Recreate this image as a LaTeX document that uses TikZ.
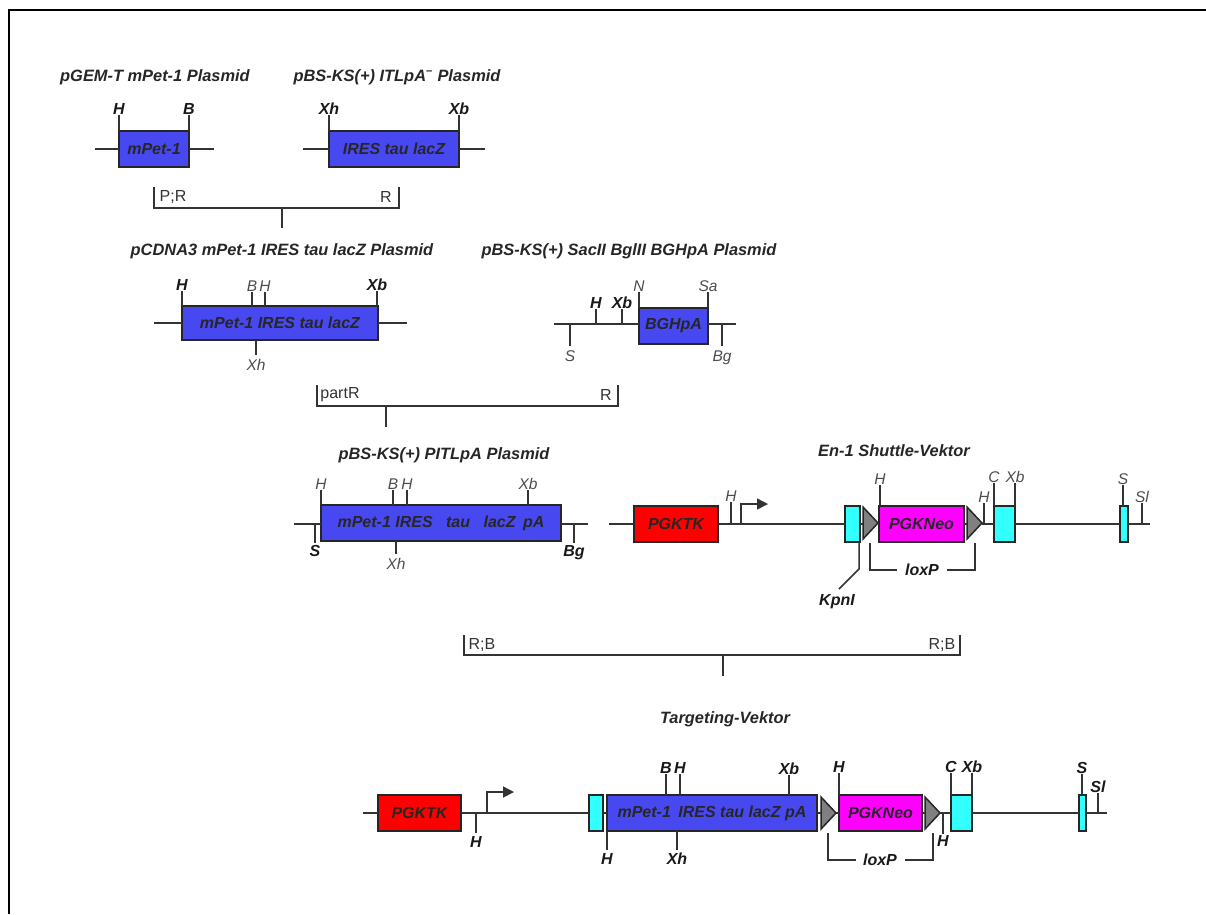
\documentclass[tikz,border=0pt]{standalone}
\usepackage{fontspec}
\setmainfont{Liberation Sans}
\usepackage{tikz}
\usetikzlibrary{arrows.meta,shapes.geometric}
\definecolor{geneblue}{RGB}{72,72,240}
\definecolor{kkred}{RGB}{255,0,0}
\definecolor{neopink}{RGB}{255,0,255}
\definecolor{exoncyan}{RGB}{51,255,255}
\tikzset{
  wire/.style={line width=1.5pt,draw=black!80},
  bx/.style={draw=black!85,line width=1.5pt,inner sep=0pt,outer sep=0pt,font=\fontsize{16}{18}\selectfont\bfseries\itshape,text=black!85},
  gene/.style={bx,fill=geneblue},
  kk/.style={bx,fill=kkred},
  neo/.style={bx,fill=neopink},
  exon/.style={bx,fill=exoncyan},
  lox/.style={draw=black!85,fill=gray,line width=1.5pt,isosceles triangle,isosceles triangle stretches,shape border rotate=0,inner sep=0pt,outer sep=0pt,minimum width=32pt,minimum height=15pt,anchor=lower side},
  titlelbl/.style={font=\fontsize{16.4}{18}\selectfont\bfseries\itshape,inner sep=0pt,text=black!85},
  up/.style={inner sep=0pt,anchor=south,text depth=0pt,font=\fontsize{15.5}{18}\selectfont\itshape,text=black!70},
  dn/.style={inner ysep=4pt,inner xsep=0pt,anchor=north,text height=11pt,text depth=0pt,font=\fontsize{15.5}{18}\selectfont\itshape,text=black!70},
  bold/.style={font=\fontsize{16}{18}\selectfont\bfseries\itshape,text=black!90},
  enz/.style={inner sep=0pt,font=\fontsize{16}{18}\selectfont,text=black!80},
  pointer/.style={wire,-{Triangle[length=11pt,width=11pt]}},
}
\begin{document}
\begin{tikzpicture}[x=1pt,y=-1pt,>=Latex]
  \useasboundingbox (0,0) rectangle (1206,914);
  \draw[line width=2.2pt] (9,914) -- (9,10) -- (1206,10);

  % top row
  \node[titlelbl] (t1) at (155,77) {pGEM-T mPet-1 Plasmid};
  \node[titlelbl] (t2) at (397,77) {pBS-KS(+) ITLpA\textsuperscript{--} Plasmid};
  \node[gene,minimum width=70pt,minimum height=36pt] (mpet) at (154,149) {mPet-1};
  \node[gene,minimum width=130pt,minimum height=36pt] (itl) at (394,149) {IRES tau lacZ};
  \coordinate (a1) at (95,149);
  \coordinate (a2) at (214,149);
  \coordinate (b1) at (303,149);
  \coordinate (b2) at (485,149);
  \draw[wire] (a1) -- (mpet.west) (mpet.east) -- (a2);
  \draw[wire] (b1) -- (itl.west) (itl.east) -- (b2);
  \node[up,bold] (s1) at (119,115) {H};
  \node[up,bold] (s2) at (189,115) {B};
  \node[up,bold] (s3) at (329,115) {Xh};
  \node[up,bold] (s4) at (459,115) {Xb};
  \draw[wire] (s1.south) -- (s1.south |- mpet.north);
  \draw[wire] (s2.south) -- (s2.south |- mpet.north);
  \draw[wire] (s3.south) -- (s3.south |- itl.north);
  \draw[wire] (s4.south) -- (s4.south |- itl.north);
  % first bracket
  \coordinate (c1) at (154,187);
  \coordinate (c2) at (399,187);
  \coordinate (c3) at (282,208);
  \coordinate (c4) at (282,228);
  \draw[wire] (c1) |- (c3) -| (c2);
  \draw[wire] (c3) -- (c4);
  \node[enz] (e1) at (173,197) {P;R};
  \node[enz] (e2) at (386,197) {R};

  % second row
  \node[titlelbl] (t3) at (282,251) {pCDNA3 mPet-1 IRES tau lacZ Plasmid};
  \node[titlelbl] (t4) at (629,251) {pBS-KS(+) SacII BglII BGHpA Plasmid};
  \node[gene,minimum width=196pt,minimum height=34pt] (pitl) at (280,323) {mPet-1 IRES tau lacZ};
  \node[gene,minimum width=69pt,minimum height=36pt] (bgh) at (673.5,326) {BGHpA};
  \coordinate (d1) at (154,323);
  \coordinate (d2) at (407,323);
  \coordinate (f1) at (554,324);
  \coordinate (f2) at (736,324);
  \draw[wire] (d1) -- (pitl.west) (pitl.east) -- (d2);
  \draw[wire] (f1) -- (bgh.west |- f1) (bgh.east |- f1) -- (f2);
  \node[up,bold] (s5) at (182,291) {H};
  \node[up] (s6) at (252,292) {B};
  \node[up] (s7) at (265,292) {H};
  \node[up,bold] (s8) at (377,291) {Xb};
  \node[dn] (s9) at (256,355) {Xh};
  \draw[wire] (s5.south) -- (s5.south |- pitl.north);
  \draw[wire] (s6.south) -- (s6.south |- pitl.north);
  \draw[wire] (s7.south) -- (s7.south |- pitl.north);
  \draw[wire] (s8.south) -- (s8.south |- pitl.north);
  \draw[wire] (s9.north) -- (s9.north |- pitl.south);
  \node[dn] (s10) at (570,346) {S};
  \node[up,bold] (s11) at (596,309) {H};
  \node[up,bold] (s12) at (622,309) {Xb};
  \node[up] (s13) at (639,292) {N};
  \node[up] (s14) at (708,292) {Sa};
  \node[dn] (s15) at (722,346) {Bg};
  \draw[wire] (s10.north) -- (s10.north |- f1);
  \draw[wire] (s11.south) -- (s11.south |- f1);
  \draw[wire] (s12.south) -- (s12.south |- f1);
  \draw[wire] (s13.south) -- (s13.south |- bgh.north);
  \draw[wire] (s14.south) -- (s14.south |- bgh.north);
  \draw[wire] (s15.north) -- (s15.north |- f1);
  % second bracket
  \coordinate (g1) at (317,385);
  \coordinate (g2) at (618,385);
  \coordinate (g3) at (386,406);
  \coordinate (g4) at (386,427);
  \draw[wire] (g1) |- (g3) -| (g2);
  \draw[wire] (g3) -- (g4);
  \node[enz] (e3) at (340,395) {partR};
  \node[enz] (e4) at (606,395) {R};

  % third row, left
  \node[titlelbl] (t5) at (444,455) {pBS-KS(+) PITLpA Plasmid};
  \node[gene,minimum width=240pt,minimum height=36pt] (pa) at (441,523) {mPet-1 IRES\hspace{9pt} tau\hspace{9pt} lacZ\hspace{3pt} pA};
  \coordinate (h1) at (294,524);
  \coordinate (h2) at (588,524);
  \draw[wire] (h1) -- (pa.west |- h1) (pa.east |- h1) -- (h2);
  \node[dn,bold,inner ysep=2pt] (s16) at (315,543) {S};
  \node[up] (s17) at (321,490) {H};
  \node[up] (s18) at (393,490) {B};
  \node[up] (s19) at (407,490) {H};
  \node[up] (s20) at (528,490) {Xb};
  \node[dn] (s21) at (396,554) {Xh};
  \node[dn,bold,inner ysep=2pt] (s22) at (574,543) {Bg};
  \draw[wire] (s16.north) -- (s16.north |- h1);
  \draw[wire] (s17.south) -- (s17.south |- pa.north);
  \draw[wire] (s18.south) -- (s18.south |- pa.north);
  \draw[wire] (s19.south) -- (s19.south |- pa.north);
  \draw[wire] (s20.south) -- (s20.south |- pa.north);
  \draw[wire] (s21.north) -- (s21.north |- pa.south);
  \draw[wire] (s22.north) -- (s22.north |- h2);

  % shuttle vector
  \node[titlelbl] (t6) at (894,451) {En-1 Shuttle-Vektor};
  \node[kk,minimum width=84pt,minimum height=36pt] (tk1) at (676,524) {PGKTK};
  \node[exon,minimum width=15pt,minimum height=36pt] (x1) at (852.5,524) {};
  \node[lox] (l1) at (863,523) {};
  \node[neo,minimum width=85pt,minimum height=36pt] (neo1) at (921.5,524) {PGKNeo};
  \node[lox] (l2) at (967,523) {};
  \node[exon,minimum width=21pt,minimum height=36pt] (x2) at (1004.5,524) {};
  \node[exon,minimum width=8pt,minimum height=36pt] (x3) at (1124,524) {};
  \coordinate (j1) at (609,524);
  \coordinate (j2) at (1150,524);
  \draw[wire] (j1) -- (tk1.west) (tk1.east) -- (x1.west) (x1.east) -- (l1.lower side |- j1) (l1.apex |- j1) -- (neo1.west) (neo1.east) -- (l2.lower side |- j1) (l2.apex |- j1) -- (x2.west) (x2.east) -- (x3.west) (x3.east) -- (j2);
  \node[up] (s23) at (731,502) {H};
  \node[up] (s24) at (880,485) {H};
  \node[up] (s25) at (984,503) {H};
  \node[up] (s26) at (994,483) {C};
  \node[up] (s27) at (1015,483) {Xb};
  \node[up] (s28) at (1123,485) {S};
  \node[up] (s29) at (1142,503) {Sl};
  \draw[wire] (s23.south) -- (s23.south |- j1);
  \draw[wire] (s24.south) -- (s24.south |- neo1.north);
  \draw[wire] (s25.south) -- (s25.south |- j1);
  \draw[wire] (s26.south) -- (s26.south |- x2.north);
  \draw[wire] (s27.south) -- (s27.south |- x2.north);
  \draw[wire] (s28.south) -- (s28.south |- x3.north);
  \draw[wire] (s29.south) -- (s29.south |- j1);
  \coordinate (p1) at (741,524);
  \coordinate (p2) at (768,504);
  \draw[pointer] (p1) |- (p2);
  \node[up,bold,anchor=center] (k1) at (837,600) {KpnI};
  \coordinate (k2) at (859,569);
  \coordinate (k3) at (839,589);
  \draw[wire] (k2 |- x1.south) -- (k2) -- (k3);
  \node[up,bold,anchor=center] (lx1) at (922,570) {loxP};
  \coordinate (m1) at (870,543);
  \coordinate (m2) at (870,570);
  \coordinate (m3) at (975,543);
  \coordinate (m4) at (975,570);
  \draw[wire] (m1) -- (m2) -- (897,570);
  \draw[wire] (m3) -- (m4) -- (947,570);
  % third bracket
  \coordinate (n1) at (464,635);
  \coordinate (n2) at (960,635);
  \coordinate (n3) at (723,655);
  \coordinate (n4) at (723,676);
  \draw[wire] (n1) |- (n3) -| (n2);
  \draw[wire] (n3) -- (n4);
  \node[enz] (e5) at (482,645) {R;B};
  \node[enz] (e6) at (942,645) {R;B};

  % targeting vector
  \node[titlelbl] (t7) at (725,719) {Targeting-Vektor};
  \node[kk,minimum width=83pt,minimum height=36pt] (tk2) at (419.5,813) {PGKTK};
  \node[exon,minimum width=14pt,minimum height=36pt] (x4) at (596,813) {};
  \node[gene,minimum width=210pt,minimum height=36pt] (blue2) at (712,813) {mPet-1\hspace{3pt} IRES tau lacZ pA};
  \node[lox] (l3) at (821,813) {};
  \node[neo,minimum width=83pt,minimum height=36pt] (neo2) at (880.5,813) {PGKNeo};
  \node[lox] (l4) at (925,813) {};
  \node[exon,minimum width=21pt,minimum height=36pt] (x5) at (961.5,813) {};
  \node[exon,minimum width=7pt,minimum height=36pt] (x6) at (1082.5,813) {};
  \coordinate (q1) at (363,813);
  \coordinate (q2) at (1107,813);
  \draw[wire] (q1) -- (tk2.west) (tk2.east) -- (x4.west) (x4.east) -- (blue2.west) (blue2.east) -- (l3.lower side) (l3.apex) -- (neo2.west) (neo2.east) -- (l4.lower side) (l4.apex) -- (x5.west) (x5.east) -- (x6.west) (x6.east) -- (q2);
  \node[dn,bold,inner ysep=3pt] (s30) at (476,833) {H};
  \node[dn,bold,inner ysep=3pt] (s31) at (607,850) {H};
  \node[dn,bold,inner ysep=3pt] (s32) at (677,850) {Xh};
  \node[up,bold] (s33) at (666,774) {B};
  \node[up,bold] (s34) at (680,774) {H};
  \node[up,bold] (s35) at (789,775) {Xb};
  \node[up,bold] (s36) at (839,773) {H};
  \node[dn,bold,inner ysep=1pt] (s37) at (943,834) {H};
  \node[up,bold] (s38) at (951,773) {C};
  \node[up,bold] (s39) at (972,773) {Xb};
  \node[up,bold] (s40) at (1082,774) {S};
  \node[up,bold] (s41) at (1098,793) {Sl};
  \draw[wire] (s30.north) -- (s30.north |- q1);
  \draw[wire] (s31.north) -- (s31.north |- blue2.south);
  \draw[wire] (s32.north) -- (s32.north |- blue2.south);
  \draw[wire] (s33.south) -- (s33.south |- blue2.north);
  \draw[wire] (s34.south) -- (s34.south |- blue2.north);
  \draw[wire] (s35.south) -- (s35.south |- blue2.north);
  \draw[wire] (s36.south) -- (s36.south |- neo2.north);
  \draw[wire] (s37.north) -- (s37.north |- q1);
  \draw[wire] (s38.south) -- (s38.south |- x5.north);
  \draw[wire] (s39.south) -- (s39.south |- x5.north);
  \draw[wire] (s40.south) -- (s40.south |- x6.north);
  \draw[wire] (s41.south) -- (s41.south |- q2);
  \coordinate (r1) at (487,813);
  \coordinate (r2) at (514,792);
  \draw[pointer] (r1) |- (r2);
  \node[up,bold,anchor=center] (lx2) at (880,860) {loxP};
  \coordinate (u1) at (828,833);
  \coordinate (u2) at (828,860);
  \coordinate (u3) at (933,833);
  \coordinate (u4) at (933,860);
  \draw[wire] (u1) -- (u2) -- (856,860);
  \draw[wire] (u3) -- (u4) -- (905,860);
\end{tikzpicture}
\end{document}
